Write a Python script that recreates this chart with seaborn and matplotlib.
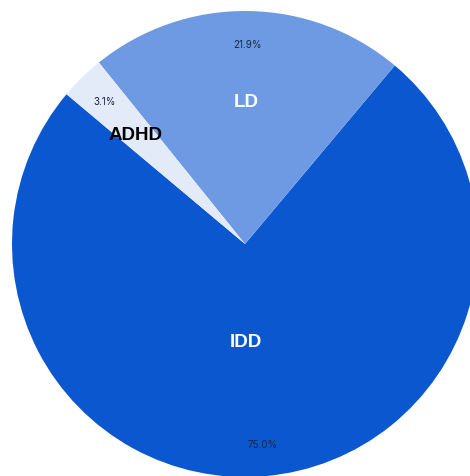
import numpy as np
import matplotlib
matplotlib.use("Agg")
import matplotlib.pyplot as plt
import seaborn as sns

# data
categories = ["IDD", "LD", "ADHD"]
shares = [75.0, 21.9, 3.1]
colors = ["#0A57D0", "#6D9AE2", "#E3EAF8"]
label_colors = ["white", "white", "black"]
label_radius = [0.42, 0.61, 0.665]
label_shift = [-4.5, 0, 0.5]  # degrees, nudges the name off the slice middle

sns.set_theme(style="white")
plt.rcParams["font.family"] = ["Liberation Sans", "DejaVu Sans"]

fig = plt.figure(figsize=(4.70, 4.77), dpi=100)
ax = fig.add_axes([0, 0, 1, 1])

wedges, _, pcts = ax.pie(
    shares,
    colors=colors,
    startangle=140,
    counterclock=True,
    autopct="%1.1f%%",
    pctdistance=0.86,
    wedgeprops=dict(linewidth=0),
    textprops=dict(fontsize=7, color="#1B2740", family=["Inter", "DejaVu Sans"]),
)

# category names inside the slices
for w, name, c, r, s in zip(wedges, categories, label_colors, label_radius, label_shift):
    mid = np.deg2rad((w.theta1 + w.theta2) / 2 + s)
    ax.text(r * np.cos(mid), r * np.sin(mid), name, ha="center", va="center",
            fontsize=13.5, fontweight="bold", color=c)

# pie is cropped at bottom/right like the source
scale = 233.0
ax.set_xlim(-245 / scale, (470 - 245) / scale)
ax.set_ylim(-(477 - 245) / scale, 245 / scale)
ax.set_aspect("auto")
ax.axis("off")

fig.savefig("out.png", dpi=100)
